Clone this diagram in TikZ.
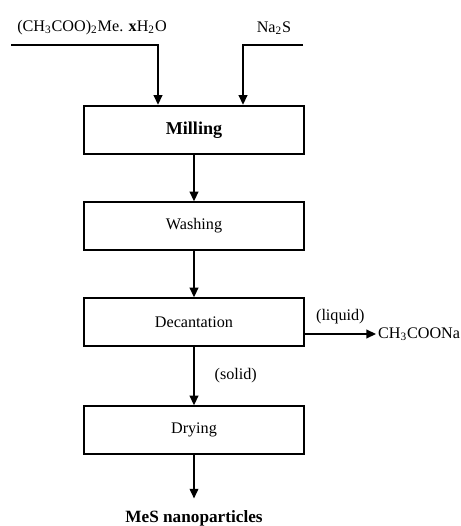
\documentclass[tikz,border=0pt]{standalone}
\usepackage{fontspec}
\setmainfont{Liberation Serif}
\usetikzlibrary{arrows.meta,positioning,calc}

\begin{document}
\begin{tikzpicture}[x=0.02cm,y=-0.02cm,
    font=\fontsize{9.2}{11}\selectfont,
    flow/.style={line width=0.8pt, -{Triangle[length=5.5pt,width=5pt]}},
    stage/.style={draw, line width=0.8pt, minimum width=220*0.02cm, minimum height=48*0.02cm, inner sep=0pt},
    mainstage/.style={stage, line width=1.4pt, font=\fontsize{10.3}{12}\selectfont\bfseries}]
    \useasboundingbox (0,0) rectangle (460,526);
    % process steps
    \node[mainstage] (mill) at (194,130) {Milling};
    \node[stage] (wash) at (194,226) {Washing};
    \node[stage] (decant) at (194,322) {Decantation};
    \node[stage] (dry) at (194,430) {Drying};
    % feeds
    \node (feedA) at (92,28) {(CH\textsubscript{3}COO)\textsubscript{2}Me. \textbf{x}H\textsubscript{2}O};
    \node (feedB) at (274,28) {Na\textsubscript{2}S};
    \coordinate (srcA) at (11,45);
    \coordinate (srcB) at (303,45);
    \coordinate (dropA) at (158,0);
    \coordinate (dropB) at (243,0);
    \draw[flow] (srcA) -| (dropA |- mill.north);
    \draw[flow] (srcB) -| (dropB |- mill.north);
    % main line
    \draw[flow] (mill) -- (wash);
    \draw[flow] (wash) -- (decant);
    \draw[flow] (decant) -- node[right=8pt, pos=0.5] {(solid)} (dry);
    % liquid out
    \node[right=0pt, inner sep=1pt] (waste) at (376,334) {CH\textsubscript{3}COONa};
    \draw[flow] (decant.east |- waste.west) -- node[above=2pt] {(liquid)} (waste.west);
    % product
    \node[font=\fontsize{9.8}{12}\selectfont\bfseries, inner sep=1pt] (prod) at (194,518) {MeS nanoparticles};
    \draw[flow, shorten >=5.5pt] (dry) -- (prod);
\end{tikzpicture}
\end{document}
